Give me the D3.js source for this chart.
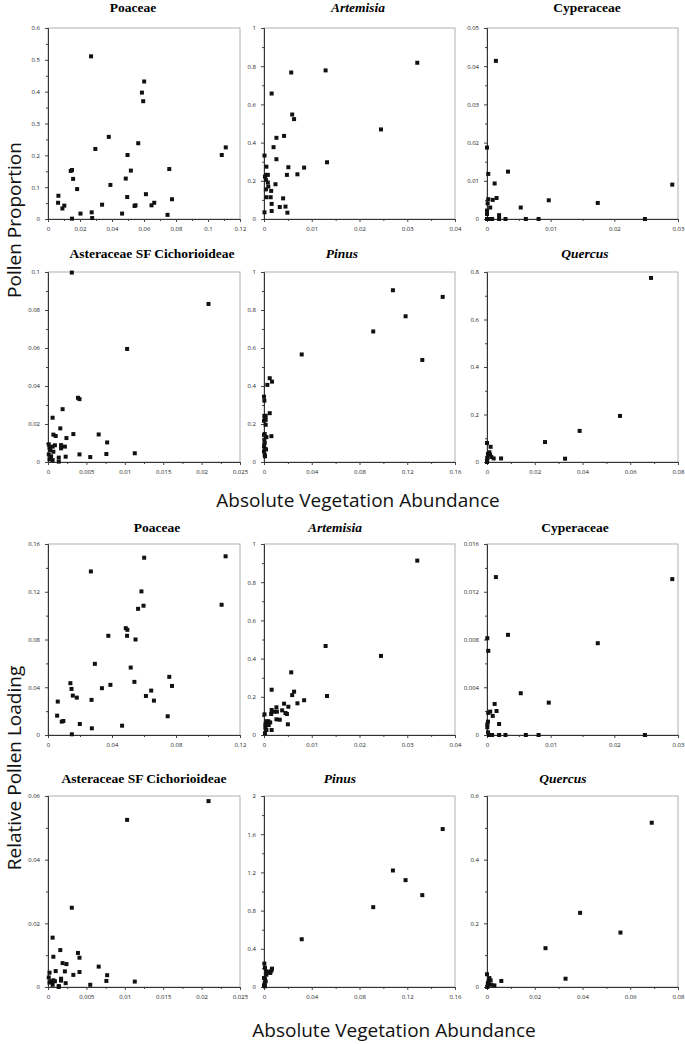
<!DOCTYPE html>
<html>
<head>
<meta charset="utf-8">
<script src="https://cdn.jsdelivr.net/npm/d3@7"></script>
<style>
  body { margin: 0; background: #fff; }
  svg { display: block; }
  .tick text { font-family: "Open Sans", sans-serif; font-size: 6px; fill: #222; }
  .title { font-family: "Liberation Serif", "Times New Roman", serif; font-weight: bold; font-size: 13.5px; }
  .big { font-family: "Open Sans", sans-serif; font-size: 19px; fill: #111; }
</style>
</head>
<body>
<svg width="685" height="1044"></svg>
<script>
// --- data: [absolute vegetation abundance, pollen value] ---
var poaceaeProp = [[0.0063,0.051],[0.0065,0.073],[0.009,0.033],[0.0102,0.042],[0.0142,0.151],[0.015,0.154],
  [0.0157,0.126],[0.015,0.001],[0.0182,0.094],[0.0203,0.017],[0.0269,0.511],[0.0273,0.021],[0.0276,0.003],
  [0.0296,0.22],[0.0338,0.045],[0.038,0.258],[0.039,0.107],[0.0463,0.017],[0.0486,0.127],[0.0495,0.069],
  [0.0497,0.201],[0.0518,0.152],[0.0541,0.041],[0.0547,0.043],[0.0564,0.238],[0.0587,0.397],[0.0595,0.37],
  [0.0601,0.432],[0.0612,0.078],[0.0647,0.043],[0.0664,0.051],[0.0747,0.013],[0.0758,0.157],[0.0775,0.062],
  [0.1086,0.201],[0.1111,0.225]];
var artemisiaProp = [[0.0001,0.332],[0.0005,0.274],[0.0002,0.222],[0.0005,0.231],[0.0008,0.231],[0.0004,0.205],
  [0.0008,0.191],[0.0004,0.155],[0.0005,0.114],[0.0009,0.17],[0.0014,0.114],[0.0015,0.147],[0.0016,0.079],
  [0.0016,0.042],[0.0001,0.035],[0.0016,0.657],[0.002,0.376],[0.0026,0.425],[0.0026,0.313],[0.0024,0.182],
  [0.0033,0.063],[0.004,0.108],[0.0042,0.435],[0.0045,0.065],[0.0048,0.231],[0.0049,0.033],[0.0051,0.271],
  [0.0057,0.767],[0.0059,0.547],[0.0063,0.523],[0.007,0.234],[0.0084,0.269],[0.0129,0.778],[0.0132,0.297],
  [0.0245,0.469],[0.0321,0.818]];
var cyperaceaeProp = [[0,0.0187],[0.0002,0.0118],[0.0002,0.0052],[0.0001,0.0041],[0,0.0022],[0,0.0013],[0,0],
  [0.0003,0],[0.0005,0.003],[0.0006,0],[0.0008,0],[0.0009,0.005],[0.0012,0.0093],[0.0014,0.0414],[0.0015,0.0055],
  [0.0019,0.001],[0.0019,0],[0.0029,0],[0.0033,0.0124],[0.0053,0.003],[0.0061,0],[0.0081,0],[0.0097,0.0049],
  [0.0174,0.0042],[0.0248,0],[0.0291,0.009]];
var asteraceaeProp = [[0.0031,0.0997],[0.0209,0.0832],[0.0103,0.0595],[0.0039,0.0338],[0.0041,0.0331],
  [0.0019,0.0278],[0.0006,0.0233],[0.0016,0.0177],[0.0007,0.0144],[0.001,0.0137],[0.0033,0.0147],[0.0024,0.0126],
  [0.0066,0.0145],[0.0077,0.0103],[0.0017,0.0089],[0.0009,0.0088],[0.0006,0.0081],[0.0022,0.0081],[0.0017,0.0072],
  [0.0001,0.0093],[0.0002,0.0075],[0.0003,0.0063],[0.0007,0.0054],[0.0001,0.004],[0.0004,0.003],[0.0002,0.0014],
  [0.0006,0.001],[0.0014,0.0023],[0.0014,0.0002],[0.0023,0.0028],[0.0041,0.004],[0.0055,0.0026],[0.0076,0.0042],
  [0.0113,0.0046]];
var pinusProp = [[0,0.344],[0.0003,0.323],[0.0003,0.243],[0.0014,0.243],[0.0008,0.231],[0.0014,0.222],[0,0.217],
  [0.0014,0.196],[0,0.143],[0.0006,0.147],[0.002,0.131],[0.0003,0.117],[0.0006,0.1],[0,0.082],[0.0008,0.07],
  [0.0017,0.066],[0,0.056],[0.0006,0.038],[0.0008,0.03],[0.0028,0.406],[0.0048,0.441],[0.0067,0.423],
  [0.0048,0.257],[0.0062,0.136],[0.0316,0.566],[0.0915,0.687],[0.108,0.904],[0.1186,0.767],[0.1326,0.537],
  [0.1497,0.869]];
var quercusProp = [[0,0.08],[0.0015,0.064],[0.001,0.041],[0.0004,0.034],[0.0013,0.031],[0.0018,0.021],
  [0.0028,0.015],[0.0001,0.017],[0.0001,0.006],[0,0],[0.0059,0.015],[0.0243,0.084],[0.0327,0.014],
  [0.0388,0.131],[0.0557,0.194],[0.0687,0.775]];

var poaceaeLoad = [[0.0061,0.028],[0.0057,0.0162],[0.0086,0.0112],[0.0096,0.0117],[0.014,0.0434],[0.0147,0.0386],
  [0.0155,0.033],[0.018,0.0313],[0.0149,0.0006],[0.0199,0.0092],[0.0268,0.137],[0.0272,0.0294],[0.0274,0.0056],
  [0.0293,0.0596],[0.0337,0.0392],[0.0377,0.0831],[0.039,0.042],[0.0463,0.0078],[0.0486,0.0895],[0.0496,0.0881],
  [0.0494,0.0831],[0.0517,0.0565],[0.054,0.0445],[0.0547,0.08],[0.0563,0.1057],[0.0584,0.1203],[0.0597,0.1083],
  [0.0601,0.1485],[0.0612,0.0327],[0.0645,0.0372],[0.0662,0.0288],[0.0748,0.0157],[0.0758,0.0487],
  [0.0775,0.0411],[0.1085,0.1091],[0.111,0.1497]];
var artemisiaLoad = [[0.0321,0.913],[0.0129,0.466],[0.0245,0.414],[0.0057,0.328],[0.0016,0.237],[0.0063,0.227],
  [0.0059,0.209],[0.0132,0.204],[0.0084,0.182],[0.007,0.166],[0.0042,0.164],[0.0051,0.148],[0.0026,0.145],
  [0.0016,0.131],[0.0038,0.129],[0.0022,0.122],[0.0027,0.122],[0.0015,0.11],[0.0045,0.115],[0.0048,0.11],
  [0.0001,0.108],[0.0026,0.082],[0.0033,0.08],[0.005,0.056],[0.0013,0.066],[0.0009,0.072],[0.0005,0.072],
  [0.0003,0.056],[0.0008,0.056],[0.0003,0.038],[0.0005,0.026],[0.0002,0.009],[0.0016,0.026],[0.001,0.052]];
var cyperaceaeLoad = [[0.0014,0.01323],[0.0291,0.01306],[0.0033,0.00839],[0.00005,0.00811],[0.0002,0.00705],
  [0.0174,0.00769],[0.0053,0.0035],[0.0097,0.00271],[0.0012,0.0026],[0.0015,0.00201],[0.0005,0.00196],
  [0.0002,0.00185],[0.0009,0.0016],[0.0019,0.00092],[0.00016,0.00112],[0.00005,0.0009],[0.00005,0.00064],
  [0.00016,0.00022],[0.0003,0],[0.0006,0],[0.0008,0],[0.0019,0],[0.0029,0],[0.0061,0],[0.0081,0],[0.0248,0]];
var asteraceaeLoad = [[0.0209,0.0584],[0.0103,0.0525],[0.0031,0.0249],[0.0006,0.0155],[0.0016,0.0116],
  [0.0007,0.0095],[0.0039,0.0107],[0.0041,0.0092],[0.0019,0.0075],[0.0024,0.0072],[0.0066,0.0064],
  [0.001,0.005],[0.0022,0.0049],[0.0041,0.0047],[0.0033,0.0038],[0.0077,0.0037],[0.0002,0.0045],[0.0001,0.003],
  [0.0017,0.0026],[0.0017,0.002],[0.0007,0.0021],[0.0004,0.0018],[0.0009,0.0018],[0.0002,0.0014],
  [0.0006,0.0007],[0.0023,0.0012],[0.0014,0.0003],[0.0014,0],[0.0055,0.0007],[0.0076,0.0019],[0.0113,0.0017]];
var pinusLoad = [[0.1497,1.654],[0.108,1.22],[0.1186,1.119],[0.1326,0.962],[0.0915,0.836],[0.0316,0.5],
  [0.0003,0.245],[0.0008,0.2],[0.002,0.164],[0.0042,0.157],[0.0062,0.171],[0.0067,0.192],[0.0053,0.147],
  [0.0034,0.155],[0,0.094],[0.0008,0.087],[0.0014,0.059],[0.0006,0.042],[0,0.017],[0.0008,0.007],[0.002,0.129]];
var quercusLoad = [[0.069,0.516],[0.039,0.233],[0.0559,0.171],[0.0245,0.122],[0.0329,0.026],[0.006,0.019],
  [0,0.04],[0.001,0.028],[0.0015,0.021],[0.0004,0.0126],[0.0003,0.005],[0.0018,0.007],[0.0031,0.005],
  [0.0001,0],[0.0007,0.018]];

// --- tick values ---
var ticksX012a = [0,0.02,0.04,0.06,0.08,0.1,0.12];
var ticksX012b = [0,0.04,0.08,0.12];
var ticksX004 = [0,0.01,0.02,0.03,0.04];
var ticksX003 = [0,0.01,0.02,0.03];
var ticksX0025 = [0,0.005,0.01,0.015,0.02,0.025];
var ticksX016 = [0,0.04,0.08,0.12,0.16];
var ticksX008 = [0,0.02,0.04,0.06,0.08];
var ticksPoaceaeProp = [0,0.1,0.2,0.3,0.4,0.5,0.6];
var ticksUnit = [0,0.2,0.4,0.6,0.8,1];
var ticksCyperaceaeProp = [0,0.01,0.02,0.03,0.04,0.05];
var ticksAsteraceaeProp = [0,0.02,0.04,0.06,0.08,0.1];
var ticksQuercusProp = [0,0.2,0.4,0.6,0.8];
var ticksPoaceaeLoad = [0,0.04,0.08,0.12,0.16];
var ticksCyperaceaeLoad = [0,0.004,0.008,0.012,0.016];
var ticksAsteraceaeLoad = [0,0.02,0.04,0.06];
var ticksPinusLoad = [0,0.4,0.8,1.2,1.6,2];
var ticksQuercusLoad = [0,0.2,0.4,0.6];

// --- layout ---
var cols = [{l: 48, r: 240}, {l: 264, r: 455}, {l: 487, r: 678}];
var rows = [{t: 28, b: 219, tt: 12}, {t: 272, b: 462, tt: 258}, {t: 544, b: 735, tt: 532}, {t: 796, b: 987, tt: 783}];

var panels = [
  {name: "Poaceae", it: false, pts: poaceaeProp, xt: ticksX012a, yt: ticksPoaceaeProp, c: 0, r: 0, tx: 133},
  {name: "Artemisia", it: true, pts: artemisiaProp, xt: ticksX004, yt: ticksUnit, c: 1, r: 0, tx: 358},
  {name: "Cyperaceae", it: false, pts: cyperaceaeProp, xt: ticksX003, yt: ticksCyperaceaeProp, c: 2, r: 0, tx: 587},
  {name: "Asteraceae SF Cichorioideae", it: false, pts: asteraceaeProp, xt: ticksX0025, yt: ticksAsteraceaeProp, c: 0, r: 1, tx: 152},
  {name: "Pinus", it: true, pts: pinusProp, xt: ticksX016, yt: ticksUnit, c: 1, r: 1, tx: 342},
  {name: "Quercus", it: true, pts: quercusProp, xt: ticksX008, yt: ticksQuercusProp, c: 2, r: 1, tx: 585},
  {name: "Poaceae", it: false, pts: poaceaeLoad, xt: ticksX012b, yt: ticksPoaceaeLoad, c: 0, r: 2, tx: 157},
  {name: "Artemisia", it: true, pts: artemisiaLoad, xt: ticksX004, yt: ticksUnit, c: 1, r: 2, tx: 335},
  {name: "Cyperaceae", it: false, pts: cyperaceaeLoad, xt: ticksX003, yt: ticksCyperaceaeLoad, c: 2, r: 2, tx: 575},
  {name: "Asteraceae SF Cichorioideae", it: false, pts: asteraceaeLoad, xt: ticksX0025, yt: ticksAsteraceaeLoad, c: 0, r: 3, tx: 144},
  {name: "Pinus", it: true, pts: pinusLoad, xt: ticksX016, yt: ticksPinusLoad, c: 1, r: 3, tx: 340},
  {name: "Quercus", it: true, pts: quercusLoad, xt: ticksX008, yt: ticksQuercusLoad, c: 2, r: 3, tx: 563}
];

var svg = d3.select("svg");
var fmt = function (d) { return String(+d.toFixed(4)); };

// halfway ticks between labelled ones
function minors(t) {
  var m = [];
  for (var i = 0; i < t.length - 1; i++) m.push((t[i] + t[i + 1]) / 2);
  return m;
}

panels.forEach(function (p) {
  var col = cols[p.c], row = rows[p.r];
  var w = col.r - col.l, h = row.b - row.t;
  var x = d3.scaleLinear().domain([0, p.xt[p.xt.length - 1]]).range([0, w]);
  var y = d3.scaleLinear().domain([0, p.yt[p.yt.length - 1]]).range([h, 0]);

  svg.append("text").attr("class", "title")
    .attr("x", p.tx).attr("y", row.tt)
    .attr("text-anchor", "middle")
    .style("font-style", p.it ? "italic" : "normal")
    .text(p.name);

  var g = svg.append("g").attr("transform", "translate(" + col.l + "," + row.t + ")");

  g.append("rect").attr("width", w).attr("height", h)
    .attr("fill", "none").attr("stroke", "#b0b0b0").attr("stroke-width", 1);

  g.append("g").attr("transform", "translate(0," + h + ")")
    .call(d3.axisBottom(x).tickValues(minors(p.xt)).tickSize(2).tickSizeOuter(0).tickFormat(""));
  g.append("g").attr("class", "x axis").attr("transform", "translate(0," + h + ")")
    .call(d3.axisBottom(x).tickValues(p.xt).tickSize(3).tickSizeOuter(0).tickPadding(5).tickFormat(fmt));

  g.append("g")
    .call(d3.axisLeft(y).tickValues(minors(p.yt)).tickSize(2).tickSizeOuter(0).tickFormat(""));
  g.append("g").attr("class", "y axis")
    .call(d3.axisLeft(y).tickValues(p.yt).tickSize(3).tickSizeOuter(0).tickPadding(5).tickFormat(fmt));

  g.selectAll(".domain").attr("stroke", "#333");
  g.selectAll(".tick line").attr("stroke", "#444");

  g.selectAll(".pt")
    .data(p.pts)
    .enter().append("rect")
    .attr("class", "pt")
    .attr("x", function (d) { return x(d[0]) - 2; })
    .attr("y", function (d) { return y(d[1]) - 2; })
    .attr("width", 4).attr("height", 4)
    .attr("fill", "#111");
});

svg.append("text").attr("class", "big").attr("text-anchor", "middle")
  .attr("x", 358).attr("y", 507).text("Absolute Vegetation Abundance");
svg.append("text").attr("class", "big").attr("text-anchor", "middle")
  .attr("x", 394).attr("y", 1037).text("Absolute Vegetation Abundance");
svg.append("text").attr("class", "big").attr("text-anchor", "middle")
  .attr("transform", "translate(21,220) rotate(-90)").text("Pollen Proportion");
svg.append("text").attr("class", "big").attr("text-anchor", "middle")
  .attr("transform", "translate(21,768) rotate(-90)").text("Relative Pollen Loading");
</script>
</body>
</html>
